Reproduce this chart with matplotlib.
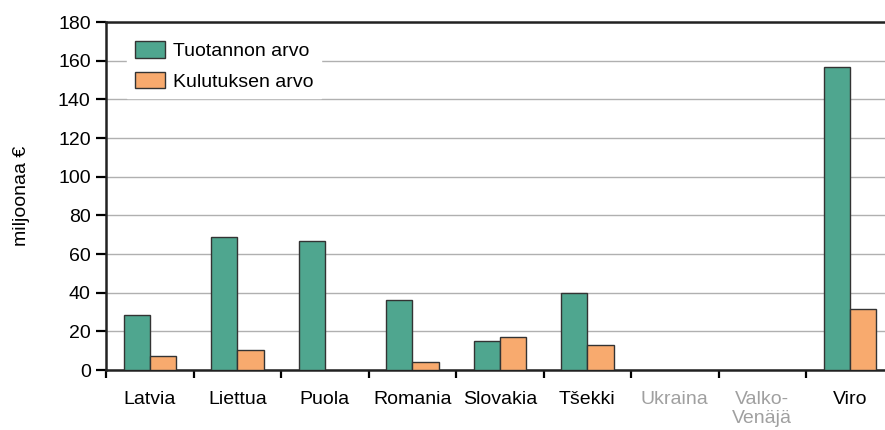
import numpy as np
import matplotlib
matplotlib.use("Agg")
import matplotlib.pyplot as plt
from matplotlib.patches import Patch

plt.rcParams['font.family'] = ['Liberation Sans', 'DejaVu Sans']

# Data
maat = ["Latvia", "Liettua", "Puola", "Romania", "Slovakia", "Tšekki",
        "Ukraina", "Valko-\nVenäjä", "Viro"]
tuotanto = [28.5, 68.8, 66.7, 36, 15, 40, 0, 0, 156.7]
kulutus = [7, 10.3, 0, 4, 17, 13, 0, 0, 31.5]
harmaat = ["Ukraina", "Valko-\nVenäjä"]

GREEN = "#4fa68f"
ORANGE = "#f8aa6e"
FS = 14

fig = plt.figure(figsize=(8.85, 4.3), dpi=100)
ax = fig.add_axes([0.1198, 0.1395, 0.885, 0.809])

x = np.arange(len(maat))
w = 0.3
for xi, t, k in zip(x, tuotanto, kulutus):
    if t > 0:
        ax.bar(xi - w / 2, t, w, color=GREEN, edgecolor="#333333", linewidth=1, zorder=3)
    if k > 0:
        ax.bar(xi + w / 2, k, w, color=ORANGE, edgecolor="#333333", linewidth=1, zorder=3)

ax.set_xlim(-0.5, 8.45)
ax.set_ylim(0, 180)
ax.set_yticks(np.arange(0, 181, 20))
ax.yaxis.grid(True, color="#b0b0b0", linewidth=1, zorder=0)
ax.set_axisbelow(True)

# category boundaries as ticks, labels in between
ax.set_xticks(np.arange(len(maat)) - 0.5)
ax.set_xticklabels([])
ax.set_xticks(x, minor=True)
ax.set_xticklabels(maat, minor=True, fontsize=FS, linespacing=1.2)
ax.tick_params(axis="x", which="minor", length=0, pad=15)
ax.tick_params(axis="x", which="major", length=6, width=1.6, direction="out")
ax.tick_params(axis="y", length=7, width=1.6, labelsize=FS, direction="out", pad=4)
for lbl in ax.get_xticklabels(minor=True):
    if lbl.get_text() in harmaat:
        lbl.set_color("#a0a0a0")

for s in ["left", "bottom", "top"]:
    ax.spines[s].set_linewidth(1.8)
    ax.spines[s].set_color("#222222")
ax.spines["right"].set_visible(False)

ax.set_ylabel("miljoonaa €", fontsize=FS, labelpad=20)

handles = [Patch(facecolor=GREEN, edgecolor="#333333", label="Tuotannon arvo"),
           Patch(facecolor=ORANGE, edgecolor="#333333", label="Kulutuksen arvo")]
leg = ax.legend(handles=handles, loc="upper left", bbox_to_anchor=(0.015, 0.995),
                frameon=True, fontsize=FS, handlelength=1.55, handleheight=0.9,
                labelspacing=0.6, borderpad=0.4, handletextpad=0.4)
leg.get_frame().set_edgecolor("white")
leg.get_frame().set_facecolor("white")
leg.get_frame().set_alpha(1)
leg.get_frame().set_boxstyle("square", pad=0)

fig.savefig("out.png", dpi=100)
